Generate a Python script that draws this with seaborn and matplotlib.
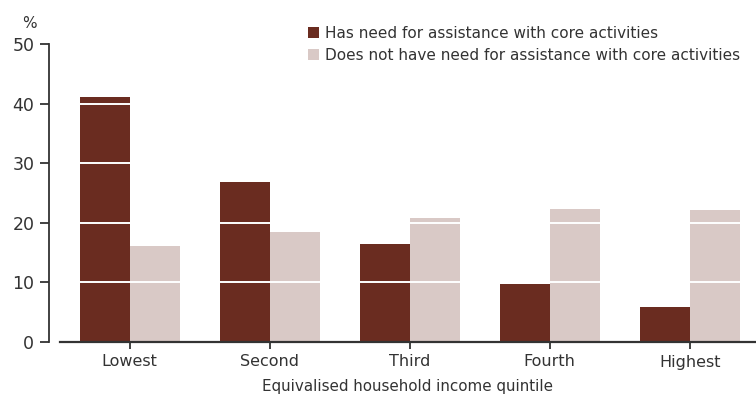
import matplotlib
matplotlib.use("Agg")
import matplotlib.pyplot as plt
import seaborn as sns
import pandas as pd
from matplotlib.patches import Patch

categories = ["Lowest", "Second", "Third", "Fourth", "Highest"]
series_names = ["Has need for assistance with core activities",
                "Does not have need for assistance with core activities"]
has_need = [41.1, 26.8, 16.5, 9.8, 5.9]
no_need = [16.1, 18.5, 20.8, 22.3, 22.2]
yticks = [0, 10, 20, 30, 40, 50]
colors = ["#6A2C20", "#D9C9C6"]

df = pd.DataFrame({
    "quintile": categories * 2,
    "series": [series_names[0]] * len(categories) + [series_names[1]] * len(categories),
    "value": has_need + no_need,
})

sns.set_theme(style="white")
plt.rcParams["font.family"] = ["DejaVu Sans"]
text_color = "#333333"

fig = plt.figure(figsize=(7.56, 3.97), dpi=100)
ax = fig.add_axes([60 / 756, 55 / 397, 696 / 756, 298 / 397])

sns.barplot(data=df, x="quintile", y="value", hue="series", order=categories,
            hue_order=series_names, palette=colors, width=0.714, saturation=1,
            errorbar=None, ax=ax, legend=False, linewidth=0)

ax.set_xlim(-0.497, 4.474)
ax.set_ylim(0, 50)
ax.set_yticks(yticks)
ax.set_yticklabels([str(t) for t in yticks])

for t in yticks[1:-1]:
    ax.axhline(t, color="white", lw=1.4, zorder=5)

for s in ["top", "right"]:
    ax.spines[s].set_visible(False)
ax.spines["left"].set_position(("outward", 8))
ax.spines["left"].set_color(text_color)
ax.spines["bottom"].set_color(text_color)
ax.spines["left"].set_linewidth(1.3)
ax.spines["bottom"].set_linewidth(1.6)

ax.tick_params(axis="y", length=6.5, width=1.3, color=text_color, pad=4,
               labelsize=12.5, labelcolor=text_color, left=True)
ax.tick_params(axis="x", length=5, width=1.3, color=text_color, pad=4,
               labelsize=11.5, labelcolor=text_color, bottom=True)

ax.set_xlabel("Equivalised household income quintile", fontsize=10.9,
              color=text_color, labelpad=7)
ax.set_ylabel("")
fig.text(29 / 756, 1 - 23 / 397, "%", fontsize=11, color=text_color,
         ha="center", va="center")

handles = [Patch(facecolor=c, edgecolor="none") for c in colors]
leg = fig.legend(handles, series_names, loc="upper left",
                 bbox_to_anchor=(308 / 756, 1 - 26 / 397), frameon=False,
                 fontsize=11, handlelength=0.72, handleheight=0.72,
                 handletextpad=0.4, labelspacing=0.45, borderpad=0,
                 borderaxespad=0)
for t in leg.get_texts():
    t.set_color(text_color)

fig.savefig("out.png", dpi=100)
